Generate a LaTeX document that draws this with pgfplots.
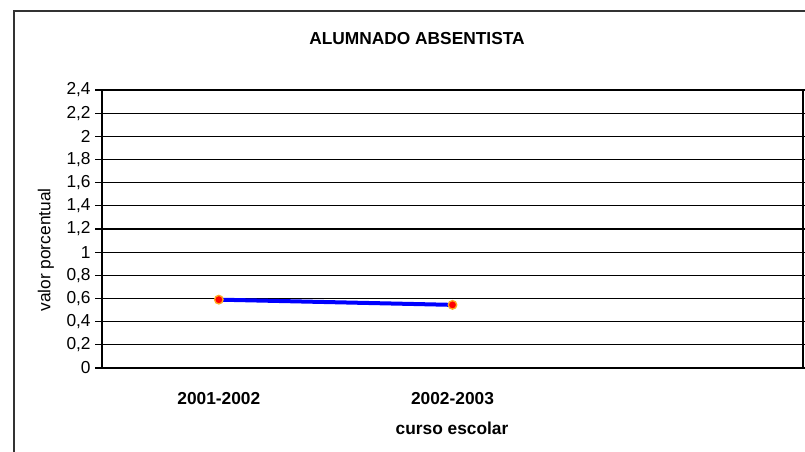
\documentclass[border=0pt]{standalone}
\usepackage{fontspec}
\setmainfont{Liberation Sans}
\usepackage{pgfplots}
\pgfplotsset{compat=1.18}
\definecolor{lineblue}{RGB}{0,0,255}
\definecolor{mkorange}{RGB}{255,170,30}
\newcommand{\lbl}{\fontsize{13}{15}\selectfont}
\begin{document}
\begin{tikzpicture}
% canvas 805x452 px, 1px = 0.75pt
\path[use as bounding box] (0,0) rectangle (603.75pt,339pt);
\draw[line width=0.9pt, black!80] (10.5pt,-10pt) -- (10.5pt,330.75pt) -- (615pt,330.75pt);
\node[font=\lbl\bfseries] at (312.75pt,309.75pt) {ALUMNADO ABSENTISTA};
\node[font=\lbl\bfseries] at (339pt,18pt) {curso escolar};
\node[font=\lbl, rotate=90] at (34.5pt,151.5pt) {valor porcentual};
\begin{axis}[
    at={(76.5pt,63pt)}, anchor=south west,
    scale only axis,
    width=525.75pt, height=208.5pt,
    xmin=0.5, xmax=3.5, ymin=0, ymax=2.4,
    xtick={1,2},
    xticklabels={2001-2002,2002-2003},
    x tick label style={font=\lbl\bfseries, yshift=-10pt},
    major x tick style={draw=none},
    extra x ticks={0.5,1.5,2.5,3.5},
    extra x tick labels={},
    extra x tick style={major tick length=4.5pt, tick align=outside, major tick style={black, draw=black}},
    ytick={0,0.2,...,2.4},
    yticklabel style={font=\lbl, /pgf/number format/.cd, fixed, use comma, assume math mode=true},
    tick align=outside,
    major tick length=5pt,
    tick style={black, line width=0.9pt},
    ymajorgrids,
    grid style={black, line width=0.9pt},
    axis line style={black, line width=0.9pt},
    clip=false,
]
\addplot[lineblue, line width=3pt, mark=*, mark size=3.2pt,
    mark options={fill=red, draw=mkorange, line width=1pt}]
    coordinates {(1,0.59) (2,0.545)};
\end{axis}
\end{tikzpicture}
\end{document}
